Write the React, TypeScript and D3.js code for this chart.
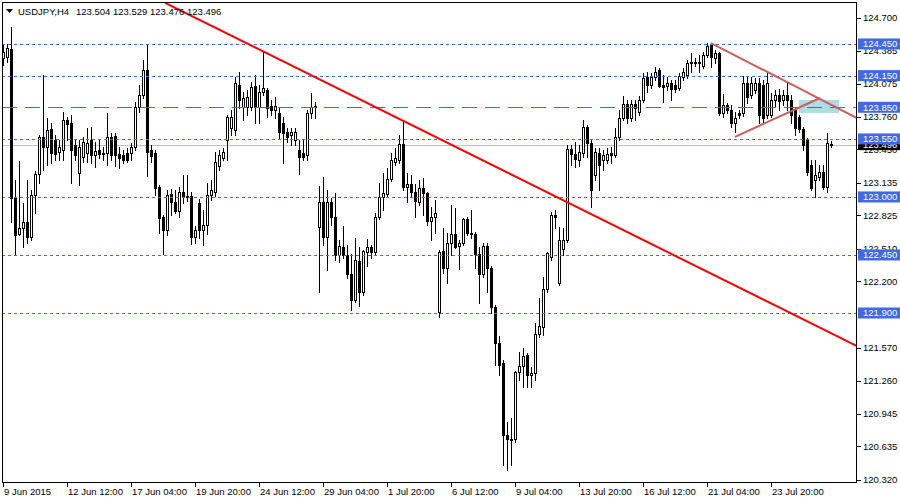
import React from 'react';
import * as d3 from 'd3';

const W = 900;
const H = 500;

const openP = [124.317,124.327,124.403,122.990,122.649,122.706,122.763,122.621,123.019,123.218,123.569,123.474,123.644,123.540,123.426,123.445,123.729,123.701,123.493,123.228,123.379,123.417,123.540,123.398,123.445,123.407,123.417,123.569,123.578,123.407,123.398,123.417,123.417,123.474,123.853,123.967,124.203,123.445,123.417,123.094,122.810,122.687,123.028,122.952,122.867,123.047,123.009,123.009,122.621,122.943,122.687,122.735,123.019,123.047,123.293,123.369,123.540,123.654,123.635,124.061,123.853,123.853,123.853,124.052,123.853,123.995,124.014,123.862,123.824,123.796,123.701,123.616,123.588,123.540,123.445,123.417,123.398,123.796,123.853,122.716,122.952,122.621,122.952,122.810,122.450,122.526,122.450,122.269,122.023,122.393,122.099,122.478,122.526,122.478,122.810,123.000,123.028,123.171,123.331,123.350,123.502,123.094,123.123,123.047,122.952,123.085,123.038,122.772,122.810,121.909,122.488,122.326,122.564,122.649,122.535,122.564,122.791,122.659,122.649,122.459,122.269,122.535,122.326,121.957,121.616,121.426,120.744,120.706,120.706,121.341,121.398,121.502,121.312,121.331,121.701,121.767,122.128,122.431,122.829,122.184,122.507,122.592,123.455,123.407,123.350,123.417,123.663,123.512,123.209,123.417,123.350,123.350,123.417,123.398,123.569,123.748,123.881,123.748,123.881,123.805,123.919,124.137,124.061,124.137,124.203,124.061,124.052,124.080,124.061,124.033,124.137,124.156,124.270,124.279,124.279,124.241,124.346,124.441,124.317,124.364,123.796,123.872,123.824,123.701,123.796,123.796,124.080,123.967,124.014,124.080,124.061,123.777,123.777,123.919,123.967,123.919,123.967,123.919,123.824,123.758,123.644,123.540,123.303,123.161,123.190,123.237,123.094,123.504];
const highP = [124.441,124.450,124.611,123.161,123.341,122.943,123.161,123.066,123.247,123.588,124.156,123.748,123.701,123.588,123.540,123.805,123.758,123.777,123.540,123.540,123.569,123.654,123.664,123.521,123.540,123.474,123.796,123.607,123.607,123.474,123.445,123.464,123.512,123.900,124.061,124.298,124.441,123.493,123.445,123.114,122.829,123.066,123.076,123.066,123.094,123.209,123.209,123.047,122.725,122.981,122.876,123.133,123.161,123.426,123.445,123.464,123.777,123.824,124.137,124.184,123.995,124.014,124.090,124.156,124.061,124.374,124.033,123.919,123.948,123.853,123.758,123.654,123.654,123.654,123.540,123.540,123.824,123.986,123.900,123.104,123.190,123.066,122.990,123.038,122.592,122.725,122.545,122.459,122.611,122.526,122.497,122.602,122.545,122.848,123.133,123.228,123.274,123.417,123.464,123.588,123.710,123.228,123.209,123.123,123.161,123.180,123.047,122.905,122.971,122.497,122.706,122.659,122.924,122.895,122.592,122.800,122.810,122.876,122.668,122.526,122.564,122.564,122.345,121.976,121.682,121.454,120.867,120.905,121.350,121.531,121.568,121.521,121.388,121.805,122.042,122.241,122.478,122.857,122.876,122.716,122.706,123.493,123.493,123.521,123.493,123.729,123.682,123.550,123.464,123.464,123.445,123.464,123.474,123.654,123.824,123.957,123.919,123.919,123.919,123.957,124.175,124.184,124.175,124.232,124.222,124.156,124.137,124.109,124.109,124.175,124.222,124.298,124.364,124.317,124.346,124.374,124.459,124.459,124.393,124.374,123.976,123.891,123.872,123.805,123.824,124.146,124.137,124.137,124.128,124.128,124.109,124.175,123.986,124.014,124.023,124.014,124.090,123.967,123.843,123.777,123.663,123.559,123.350,123.350,123.303,123.303,123.607,123.529];
const lowP = [124.251,124.279,122.763,122.450,122.640,122.526,122.564,122.592,122.848,123.133,123.256,123.303,123.322,123.350,123.350,123.350,123.540,123.133,123.350,123.114,123.331,123.331,123.322,123.284,123.369,123.350,123.303,123.350,123.293,123.274,123.322,123.331,123.350,123.445,123.805,123.938,123.199,123.331,123.019,122.659,122.459,122.640,122.829,122.848,122.810,122.943,122.962,122.554,122.564,122.611,122.545,122.649,122.971,123.009,123.256,123.350,123.350,123.588,123.588,123.843,123.729,123.777,123.824,123.701,123.701,123.967,123.758,123.777,123.748,123.559,123.322,123.521,123.493,123.493,123.218,123.350,123.350,123.748,123.748,122.099,122.545,122.307,122.735,122.402,122.383,122.421,122.231,121.928,122.004,121.966,122.071,122.345,122.421,122.450,122.791,122.876,123.009,123.152,123.303,123.322,123.066,122.952,123.000,122.810,122.924,122.829,122.735,122.592,122.659,121.862,122.279,122.184,122.450,122.516,122.317,122.545,122.640,122.611,122.326,121.995,122.241,122.099,121.900,121.407,121.312,120.459,120.412,120.459,120.677,121.265,121.199,121.199,121.199,121.265,121.672,121.691,122.099,122.402,122.706,122.165,122.450,122.573,123.303,123.284,123.293,123.379,123.379,122.905,123.161,123.066,123.256,123.322,123.322,123.379,123.540,123.729,123.701,123.720,123.729,123.777,123.900,123.995,124.033,124.109,124.042,123.900,124.014,123.919,123.995,124.014,124.109,124.128,124.184,124.241,124.184,124.222,124.327,124.232,124.270,123.777,123.758,123.796,123.663,123.616,123.748,123.767,123.891,123.938,123.986,123.701,123.710,123.748,123.758,123.853,123.824,123.872,123.824,123.701,123.588,123.616,123.445,123.209,123.066,123.000,123.161,123.076,123.047,123.476];
const closeP = [124.374,124.412,122.990,122.640,122.706,122.763,122.621,123.019,123.218,123.569,123.474,123.635,123.417,123.407,123.474,123.729,123.691,123.445,123.398,123.474,123.521,123.512,123.398,123.436,123.407,123.417,123.569,123.398,123.398,123.369,123.350,123.350,123.474,123.853,123.967,124.203,123.426,123.388,123.085,122.800,122.687,123.019,122.952,122.867,123.047,123.000,123.000,122.621,122.687,122.687,122.735,123.019,123.066,123.331,123.398,123.426,123.758,123.758,124.080,123.919,123.938,123.948,124.042,123.853,123.995,124.033,123.843,123.824,123.862,123.616,123.607,123.569,123.616,123.616,123.379,123.379,123.796,123.853,123.862,122.952,122.621,122.952,122.810,122.450,122.535,122.450,122.269,122.023,122.402,122.099,122.488,122.526,122.478,122.810,123.000,123.038,123.171,123.350,123.369,123.502,123.094,123.123,123.047,122.962,123.085,123.038,122.772,122.810,122.848,122.478,122.326,122.564,122.649,122.526,122.564,122.791,122.659,122.649,122.459,122.269,122.535,122.326,121.957,121.616,121.407,120.744,120.706,120.696,121.341,121.398,121.492,121.312,121.331,121.701,121.777,122.128,122.469,122.829,122.810,122.592,122.592,123.455,123.407,123.360,123.426,123.663,123.512,123.066,123.426,123.303,123.398,123.407,123.398,123.569,123.748,123.881,123.748,123.881,123.843,123.919,124.128,124.061,124.137,124.184,124.052,124.042,124.080,124.023,124.023,124.146,124.184,124.270,124.279,124.270,124.270,124.346,124.431,124.327,124.364,123.796,123.872,123.824,123.701,123.748,123.777,124.080,123.948,124.080,124.080,123.777,123.748,124.080,123.919,123.967,123.910,123.967,123.919,123.777,123.654,123.644,123.493,123.237,123.085,123.209,123.237,123.094,123.512,123.496];

const timeLabels = ['9 Jun 2015','12 Jun 12:00','17 Jun 04:00','19 Jun 20:00','24 Jun 12:00','29 Jun 04:00','1 Jul 20:00','6 Jul 12:00','9 Jul 04:00','13 Jul 20:00','16 Jul 12:00','21 Jul 04:00','23 Jul 20:00'];
const timeLabelBars = [0,16,32,48,64,80,96,112,128,144,160,176,192];
const priceTicks = [124.700,124.385,124.075,123.760,123.450,123.135,122.825,122.510,122.200,121.570,121.260,120.945,120.635,120.320];
const dottedLevels = [124.450,124.150,123.550,123.000,122.450,121.900];
const dashedLevel = 123.850;
const labelLevels = [124.450,124.150,123.850,123.550,123.000,122.450,121.900];
const bidPrice = 123.496;
const titleSymbol = 'USDJPY,H4';
const titleValues = '123.504 123.529 123.476 123.496';

// trend lines: [bar, price] anchors
const redTrend = [[40.5, 124.84],[213.5, 121.587]];
const triUpper = [[177, 124.459],[213.5, 123.748]];
const triLower = [[183, 123.57],[204.25, 123.938]];
const zoneBars = [199, 209];
const zonePrices = [123.919, 123.796];

const L = 2, R = 857, T = 2, B = 482;
const FONT = '"Liberation Sans", Arial, sans-serif';
const FS = 9.5;

export default function App() {
  const n = openP.length;
  const x = d3.scaleLinear().domain([0, n - 1]).range([3, 831]);
  const y = d3.scaleLinear().domain([120.298, 124.848]).range([B, T]);
  const line = d3.line<number[]>().x(d => x(d[0])).y(d => y(d[1]));
  const ry = (p: number) => Math.round(y(p)) + 0.5;
  const fmt = d3.format('.3f');

  const candles = d3.range(n).map(i => {
    const o = openP[i], c = closeP[i];
    const h = Math.max(highP[i], o, c), l = Math.min(lowP[i], o, c);
    const cx = Math.round(x(i));
    const yTop = Math.round(y(Math.max(o, c)));
    const yBot = Math.round(y(Math.min(o, c)));
    const yh = Math.round(y(h));
    const yl = Math.round(y(l));
    const bull = c >= o;
    return (
      <g key={i}>
        <line x1={cx + 0.5} x2={cx + 0.5} y1={yh} y2={yl + 1} stroke="#000" strokeWidth={1} />
        {bull ? (
          yBot - yTop < 1 ? (
            <line x1={cx - 1} x2={cx + 2} y1={yTop + 0.5} y2={yTop + 0.5} stroke="#000" />
          ) : (
            <rect x={cx - 0.5} y={yTop + 0.5} width={2} height={yBot - yTop} fill="#fff" stroke="#000" strokeWidth={1} />
          )
        ) : (
          <rect x={cx - 1} y={yTop} width={3} height={Math.max(1, yBot - yTop + 1)} fill="#000" />
        )}
      </g>
    );
  });

  return (
    <svg width={W} height={H} style={{ position: 'absolute', left: 0, top: 0, background: '#fff' }} fontFamily={FONT}>
      <defs>
        <clipPath id="plotClip">
          <rect x={L} y={T} width={R - L} height={B - T} />
        </clipPath>
      </defs>
      <rect x={0} y={0} width={W} height={H} fill="#fff" />
      <g clipPath="url(#plotClip)">
        <rect x={x(zoneBars[0])} y={y(zonePrices[0])} width={x(zoneBars[1]) - x(zoneBars[0])} height={y(zonePrices[1]) - y(zonePrices[0])} fill="#ADDDE3" />
        <line x1={L} x2={R} y1={ry(bidPrice)} y2={ry(bidPrice)} stroke="#C0C0C0" strokeWidth={1} shapeRendering="crispEdges" />
        <g shapeRendering="crispEdges">{candles}</g>
        {dottedLevels.map(p => (
          <line key={p} x1={L} x2={R} y1={ry(p)} y2={ry(p)} stroke="#4169E1" strokeWidth={1} strokeDasharray="3,3" shapeRendering="crispEdges" />
        ))}
        <line x1={L} x2={R} y1={ry(dashedLevel)} y2={ry(dashedLevel)} stroke="#4169E1" strokeWidth={1} strokeDasharray="15,8" shapeRendering="crispEdges" />
        <path d={line(redTrend as number[][]) || ''} stroke="#FF0000" strokeWidth={2} fill="none" />
        <path d={line(triUpper as number[][]) || ''} stroke="#CD5C5C" strokeWidth={2} fill="none" />
        <path d={line(triLower as number[][]) || ''} stroke="#CD5C5C" strokeWidth={2} fill="none" />
      </g>
      {/* frame */}
      <rect x={L + 0.5} y={T + 0.5} width={R - L - 1} height={B - T} fill="none" stroke="#000" strokeWidth={1} shapeRendering="crispEdges" />
      {/* price axis */}
      {priceTicks.map(p => (
        <g key={p}>
          <line x1={R} x2={R + 4} y1={ry(p)} y2={ry(p)} stroke="#000" shapeRendering="crispEdges" />
          <text x={R + 6} y={y(p) + 3.5} fontSize={FS} fill="#000">{fmt(p)}</text>
        </g>
      ))}
      {/* current price label */}
      <rect x={R + 1} y={y(bidPrice) - 5.5} width={W - R - 1} height={11} fill="#000" />
      <text x={R + 6} y={y(bidPrice) + 3.5} fontSize={FS} fill="#fff">{fmt(bidPrice)}</text>
      {labelLevels.map(p => (
        <g key={'lb' + p}>
          <rect x={R + 1} y={y(p) - 5.5} width={W - R - 1} height={11} fill="#4169E1" />
          <text x={R + 6} y={y(p) + 3.5} fontSize={FS} fill="#fff">{fmt(p)}</text>
        </g>
      ))}
      {/* time axis */}
      {timeLabelBars.map((b, k) => (
        <g key={b}>
          <line x1={Math.round(x(b)) + 0.5} x2={Math.round(x(b)) + 0.5} y1={B} y2={B + 5} stroke="#000" shapeRendering="crispEdges" />
          <text x={Math.round(x(b)) + 1} y={B + 13} fontSize={FS} fill="#000">{timeLabels[k]}</text>
        </g>
      ))}
      {/* title */}
      <path d="M6,9 L13,9 L9.5,13 Z" fill="#000" />
      <text x={18} y={15} fontSize={FS} fill="#000">{titleSymbol}</text>
      <text x={76} y={15} fontSize={FS} fill="#000">{titleValues}</text>
    </svg>
  );
}
